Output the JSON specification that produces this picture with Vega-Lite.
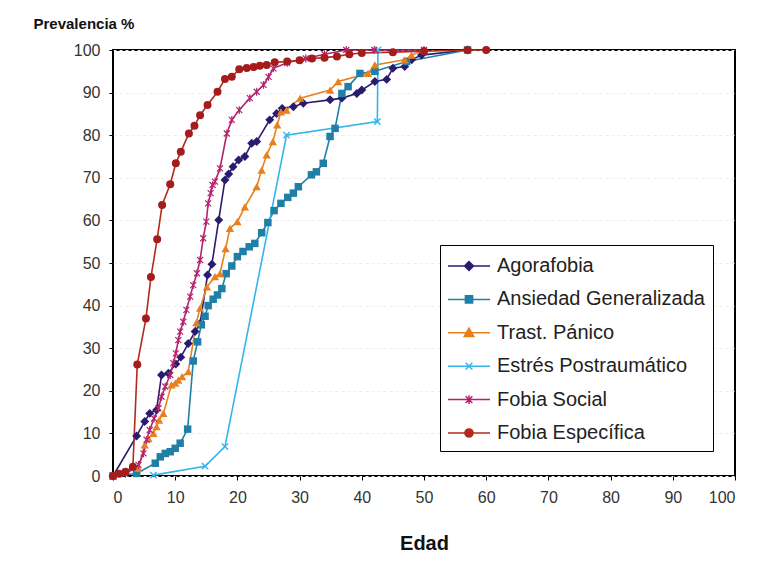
{
  "$schema": "https://vega.github.io/schema/vega-lite/v6.json",
  "width": 622,
  "height": 426,
  "autosize": {"type": "none"},
  "padding": {"left": 113, "top": 50, "right": 37, "bottom": 95},
  "background": "white",
  "config": {
    "font": "Liberation Sans",
    "view": {"stroke": "#000000", "strokeWidth": 2},
    "axis": {"labelFont": "Liberation Sans", "titleFont": "Liberation Sans"},
    "legend": {"labelFont": "Liberation Sans"}
  },
  "data": {"values": [
    {"series": "Agorafobia", "x": 0, "y": 0},
    {"series": "Agorafobia", "x": 3.8, "y": 9.4},
    {"series": "Agorafobia", "x": 5.1, "y": 12.8},
    {"series": "Agorafobia", "x": 5.9, "y": 14.7},
    {"series": "Agorafobia", "x": 7, "y": 15.5},
    {"series": "Agorafobia", "x": 7.8, "y": 23.7},
    {"series": "Agorafobia", "x": 8.9, "y": 24.1},
    {"series": "Agorafobia", "x": 10.1, "y": 26.3},
    {"series": "Agorafobia", "x": 10.9, "y": 27.9},
    {"series": "Agorafobia", "x": 12.1, "y": 31.1},
    {"series": "Agorafobia", "x": 13.2, "y": 33.9},
    {"series": "Agorafobia", "x": 14, "y": 35.8},
    {"series": "Agorafobia", "x": 15.2, "y": 47.2},
    {"series": "Agorafobia", "x": 15.9, "y": 49.7},
    {"series": "Agorafobia", "x": 17, "y": 60.1},
    {"series": "Agorafobia", "x": 18, "y": 69.5},
    {"series": "Agorafobia", "x": 18.6, "y": 70.9},
    {"series": "Agorafobia", "x": 19.3, "y": 72.6},
    {"series": "Agorafobia", "x": 20.2, "y": 74.2},
    {"series": "Agorafobia", "x": 21.2, "y": 75},
    {"series": "Agorafobia", "x": 22.3, "y": 78.1},
    {"series": "Agorafobia", "x": 23.1, "y": 78.5},
    {"series": "Agorafobia", "x": 25.2, "y": 83.6},
    {"series": "Agorafobia", "x": 26.3, "y": 85.1},
    {"series": "Agorafobia", "x": 27.2, "y": 86.3},
    {"series": "Agorafobia", "x": 29, "y": 86.7},
    {"series": "Agorafobia", "x": 30.6, "y": 87.5},
    {"series": "Agorafobia", "x": 34.9, "y": 88.3},
    {"series": "Agorafobia", "x": 36.8, "y": 88.7},
    {"series": "Agorafobia", "x": 39.2, "y": 89.8},
    {"series": "Agorafobia", "x": 40, "y": 90.6},
    {"series": "Agorafobia", "x": 42.1, "y": 92.6},
    {"series": "Agorafobia", "x": 44, "y": 93.1},
    {"series": "Agorafobia", "x": 45, "y": 95.7},
    {"series": "Agorafobia", "x": 46.9, "y": 96.1},
    {"series": "Agorafobia", "x": 48, "y": 97.7},
    {"series": "Agorafobia", "x": 49.6, "y": 98.8},
    {"series": "Agorafobia", "x": 57, "y": 100},
    {"series": "Ansiedad Generalizada", "x": 0, "y": 0},
    {"series": "Ansiedad Generalizada", "x": 3.8, "y": 0.6},
    {"series": "Ansiedad Generalizada", "x": 6.8, "y": 3},
    {"series": "Ansiedad Generalizada", "x": 7.6, "y": 4.5},
    {"series": "Ansiedad Generalizada", "x": 8.4, "y": 5.3},
    {"series": "Ansiedad Generalizada", "x": 9.2, "y": 5.7},
    {"series": "Ansiedad Generalizada", "x": 10, "y": 6.5},
    {"series": "Ansiedad Generalizada", "x": 10.8, "y": 7.7},
    {"series": "Ansiedad Generalizada", "x": 12, "y": 11},
    {"series": "Ansiedad Generalizada", "x": 12.9, "y": 27},
    {"series": "Ansiedad Generalizada", "x": 13.6, "y": 31.5},
    {"series": "Ansiedad Generalizada", "x": 14.2, "y": 35.5},
    {"series": "Ansiedad Generalizada", "x": 14.8, "y": 37.5},
    {"series": "Ansiedad Generalizada", "x": 15.3, "y": 40},
    {"series": "Ansiedad Generalizada", "x": 16.1, "y": 41.5},
    {"series": "Ansiedad Generalizada", "x": 16.8, "y": 42.5},
    {"series": "Ansiedad Generalizada", "x": 17.5, "y": 44},
    {"series": "Ansiedad Generalizada", "x": 18.2, "y": 47.5},
    {"series": "Ansiedad Generalizada", "x": 19.1, "y": 49.3},
    {"series": "Ansiedad Generalizada", "x": 20, "y": 51.5},
    {"series": "Ansiedad Generalizada", "x": 20.9, "y": 52.7},
    {"series": "Ansiedad Generalizada", "x": 21.9, "y": 53.8},
    {"series": "Ansiedad Generalizada", "x": 22.8, "y": 54.6},
    {"series": "Ansiedad Generalizada", "x": 23.9, "y": 57.1},
    {"series": "Ansiedad Generalizada", "x": 24.9, "y": 59.5},
    {"series": "Ansiedad Generalizada", "x": 25.9, "y": 62.3},
    {"series": "Ansiedad Generalizada", "x": 27, "y": 64},
    {"series": "Ansiedad Generalizada", "x": 28.1, "y": 65.4},
    {"series": "Ansiedad Generalizada", "x": 29, "y": 66.4},
    {"series": "Ansiedad Generalizada", "x": 29.8, "y": 67.9},
    {"series": "Ansiedad Generalizada", "x": 31.9, "y": 70.7},
    {"series": "Ansiedad Generalizada", "x": 32.7, "y": 71.4},
    {"series": "Ansiedad Generalizada", "x": 33.8, "y": 73.4},
    {"series": "Ansiedad Generalizada", "x": 34.9, "y": 79.7},
    {"series": "Ansiedad Generalizada", "x": 35.7, "y": 81.6},
    {"series": "Ansiedad Generalizada", "x": 36.8, "y": 89.8},
    {"series": "Ansiedad Generalizada", "x": 37.8, "y": 91.4},
    {"series": "Ansiedad Generalizada", "x": 39.7, "y": 94.5},
    {"series": "Ansiedad Generalizada", "x": 42.1, "y": 95},
    {"series": "Ansiedad Generalizada", "x": 47.2, "y": 97.3},
    {"series": "Ansiedad Generalizada", "x": 57, "y": 100},
    {"series": "Trast. Pánico", "x": 0, "y": 0},
    {"series": "Trast. Pánico", "x": 4.1, "y": 1.8},
    {"series": "Trast. Pánico", "x": 5.1, "y": 7.3},
    {"series": "Trast. Pánico", "x": 5.7, "y": 8.8},
    {"series": "Trast. Pánico", "x": 6.5, "y": 10},
    {"series": "Trast. Pánico", "x": 7, "y": 11.6},
    {"series": "Trast. Pánico", "x": 7.4, "y": 13.1},
    {"series": "Trast. Pánico", "x": 8.1, "y": 14.7},
    {"series": "Trast. Pánico", "x": 9.4, "y": 21.4},
    {"series": "Trast. Pánico", "x": 10, "y": 21.8},
    {"series": "Trast. Pánico", "x": 10.5, "y": 22.5},
    {"series": "Trast. Pánico", "x": 11.1, "y": 23.3},
    {"series": "Trast. Pánico", "x": 12.1, "y": 24.5},
    {"series": "Trast. Pánico", "x": 13.4, "y": 36},
    {"series": "Trast. Pánico", "x": 14, "y": 39.4},
    {"series": "Trast. Pánico", "x": 15.1, "y": 44.4},
    {"series": "Trast. Pánico", "x": 16.4, "y": 46.8},
    {"series": "Trast. Pánico", "x": 17.2, "y": 47.5},
    {"series": "Trast. Pánico", "x": 18.1, "y": 53.4},
    {"series": "Trast. Pánico", "x": 18.8, "y": 58.1},
    {"series": "Trast. Pánico", "x": 20, "y": 59.7},
    {"series": "Trast. Pánico", "x": 21.2, "y": 63.2},
    {"series": "Trast. Pánico", "x": 23.1, "y": 67.9},
    {"series": "Trast. Pánico", "x": 23.9, "y": 71.8},
    {"series": "Trast. Pánico", "x": 24.7, "y": 75.4},
    {"series": "Trast. Pánico", "x": 25.7, "y": 78.5},
    {"series": "Trast. Pánico", "x": 26.4, "y": 82.4},
    {"series": "Trast. Pánico", "x": 27, "y": 85.5},
    {"series": "Trast. Pánico", "x": 27.9, "y": 85.9},
    {"series": "Trast. Pánico", "x": 30.1, "y": 88.7},
    {"series": "Trast. Pánico", "x": 34.9, "y": 90.6},
    {"series": "Trast. Pánico", "x": 36.2, "y": 92.6},
    {"series": "Trast. Pánico", "x": 41, "y": 94.5},
    {"series": "Trast. Pánico", "x": 42.1, "y": 96.5},
    {"series": "Trast. Pánico", "x": 46.9, "y": 97.7},
    {"series": "Trast. Pánico", "x": 48, "y": 98.8},
    {"series": "Trast. Pánico", "x": 50, "y": 100},
    {"series": "Estrés Postraumático", "x": 6.5, "y": 0.2},
    {"series": "Estrés Postraumático", "x": 14.8, "y": 2.3},
    {"series": "Estrés Postraumático", "x": 18, "y": 6.9},
    {"series": "Estrés Postraumático", "x": 27.9, "y": 80},
    {"series": "Estrés Postraumático", "x": 42.5, "y": 83.2},
    {"series": "Estrés Postraumático", "x": 42.6, "y": 100},
    {"series": "Fobia Social", "x": 0, "y": 0},
    {"series": "Fobia Social", "x": 2, "y": 0.5},
    {"series": "Fobia Social", "x": 4.1, "y": 2.6},
    {"series": "Fobia Social", "x": 4.9, "y": 5.3},
    {"series": "Fobia Social", "x": 5.4, "y": 8.5},
    {"series": "Fobia Social", "x": 5.9, "y": 10.8},
    {"series": "Fobia Social", "x": 6.6, "y": 13.5},
    {"series": "Fobia Social", "x": 7.3, "y": 15.9},
    {"series": "Fobia Social", "x": 7.8, "y": 18.6},
    {"series": "Fobia Social", "x": 8.4, "y": 21},
    {"series": "Fobia Social", "x": 9.2, "y": 23.7},
    {"series": "Fobia Social", "x": 9.7, "y": 26.5},
    {"series": "Fobia Social", "x": 10.1, "y": 28.8},
    {"series": "Fobia Social", "x": 10.5, "y": 31.9},
    {"series": "Fobia Social", "x": 10.8, "y": 33.9},
    {"series": "Fobia Social", "x": 11.3, "y": 36.2},
    {"series": "Fobia Social", "x": 11.8, "y": 39},
    {"series": "Fobia Social", "x": 12.4, "y": 42.1},
    {"series": "Fobia Social", "x": 12.9, "y": 44.8},
    {"series": "Fobia Social", "x": 13.5, "y": 47.6},
    {"series": "Fobia Social", "x": 14, "y": 50.7},
    {"series": "Fobia Social", "x": 14.5, "y": 55.8},
    {"series": "Fobia Social", "x": 15, "y": 59.7},
    {"series": "Fobia Social", "x": 15.3, "y": 64},
    {"series": "Fobia Social", "x": 15.7, "y": 66.4},
    {"series": "Fobia Social", "x": 16, "y": 68.3},
    {"series": "Fobia Social", "x": 16.4, "y": 69.1},
    {"series": "Fobia Social", "x": 17.2, "y": 72.2},
    {"series": "Fobia Social", "x": 18.3, "y": 80.4},
    {"series": "Fobia Social", "x": 19.1, "y": 83.6},
    {"series": "Fobia Social", "x": 20.3, "y": 85.9},
    {"series": "Fobia Social", "x": 22, "y": 88.7},
    {"series": "Fobia Social", "x": 23.1, "y": 90.2},
    {"series": "Fobia Social", "x": 24.2, "y": 91.8},
    {"series": "Fobia Social", "x": 25, "y": 93.7},
    {"series": "Fobia Social", "x": 25.8, "y": 95.7},
    {"series": "Fobia Social", "x": 28, "y": 97},
    {"series": "Fobia Social", "x": 31, "y": 98},
    {"series": "Fobia Social", "x": 34, "y": 99},
    {"series": "Fobia Social", "x": 37.5, "y": 100},
    {"series": "Fobia Social", "x": 42, "y": 100},
    {"series": "Fobia Social", "x": 50, "y": 100},
    {"series": "Fobia Específica", "x": 0, "y": 0},
    {"series": "Fobia Específica", "x": 1, "y": 0.5},
    {"series": "Fobia Específica", "x": 2, "y": 1},
    {"series": "Fobia Específica", "x": 3.2, "y": 2.2},
    {"series": "Fobia Específica", "x": 3.9, "y": 26.2},
    {"series": "Fobia Específica", "x": 5.3, "y": 37},
    {"series": "Fobia Específica", "x": 6.1, "y": 46.7},
    {"series": "Fobia Específica", "x": 7.1, "y": 55.6},
    {"series": "Fobia Específica", "x": 7.9, "y": 63.6},
    {"series": "Fobia Específica", "x": 9.2, "y": 68.5},
    {"series": "Fobia Específica", "x": 10.1, "y": 73.4},
    {"series": "Fobia Específica", "x": 10.9, "y": 76.1},
    {"series": "Fobia Específica", "x": 12.2, "y": 80.4},
    {"series": "Fobia Específica", "x": 13.1, "y": 82.2},
    {"series": "Fobia Específica", "x": 14, "y": 84.7},
    {"series": "Fobia Específica", "x": 15.2, "y": 87.1},
    {"series": "Fobia Específica", "x": 16.8, "y": 90.2},
    {"series": "Fobia Específica", "x": 18, "y": 93.2},
    {"series": "Fobia Específica", "x": 19.1, "y": 93.7},
    {"series": "Fobia Específica", "x": 20.3, "y": 95.5},
    {"series": "Fobia Específica", "x": 21.5, "y": 95.8},
    {"series": "Fobia Específica", "x": 22.6, "y": 96},
    {"series": "Fobia Específica", "x": 23.6, "y": 96.3},
    {"series": "Fobia Específica", "x": 24.7, "y": 96.5},
    {"series": "Fobia Específica", "x": 26, "y": 97.1},
    {"series": "Fobia Específica", "x": 28, "y": 97.3},
    {"series": "Fobia Específica", "x": 30, "y": 97.6},
    {"series": "Fobia Específica", "x": 32, "y": 98},
    {"series": "Fobia Específica", "x": 34, "y": 98.2},
    {"series": "Fobia Específica", "x": 36, "y": 98.5},
    {"series": "Fobia Específica", "x": 38, "y": 99},
    {"series": "Fobia Específica", "x": 40, "y": 99.3},
    {"series": "Fobia Específica", "x": 45, "y": 99.5},
    {"series": "Fobia Específica", "x": 50, "y": 99.7},
    {"series": "Fobia Específica", "x": 57, "y": 100},
    {"series": "Fobia Específica", "x": 60, "y": 100}
  ]},
  "encoding": {
    "x": {
      "field": "x", "type": "quantitative",
      "scale": {"domain": [0, 100], "nice": false},
      "axis": {
        "values": [0, 10, 20, 30, 40, 50, 60, 70, 80, 90, 100],
        "title": "Edad", "titleFontSize": 20, "titleFontWeight": "bold", "titleColor": "#111111",
        "titlePadding": 28,
        "labelFontSize": 16, "labelColor": "#333333", "labelPadding": 9,
        "tickSize": 4, "tickColor": "#000000", "domain": false, "grid": false
      }
    },
    "y": {
      "field": "y", "type": "quantitative",
      "scale": {"domain": [0, 100], "nice": false},
      "axis": {
        "values": [0, 10, 20, 30, 40, 50, 60, 70, 80, 90, 100],
        "title": "Prevalencia %", "titleFontSize": 15, "titleFontWeight": "bold", "titleColor": "#111111",
        "titleAngle": 0, "titleAlign": "left", "titleBaseline": "alphabetic",
        "titleX": -80, "titleY": -22,
        "labelFontSize": 16, "labelColor": "#333333", "labelPadding": 9,
        "tickSize": 4, "tickColor": "#000000", "domain": false,
        "grid": true, "gridColor": "#ececec", "gridDash": [3, 3]
      }
    }
  },
  "layer": [
    {
      "mark": {"type": "line", "strokeWidth": 1.6},
      "encoding": {
        "color": {
          "field": "series", "type": "nominal",
          "scale": {
            "domain": ["Agorafobia", "Ansiedad Generalizada", "Trast. Pánico", "Estrés Postraumático", "Fobia Social", "Fobia Específica"],
            "range": ["#2b1b6e", "#1f7fa6", "#e8801e", "#33b5ea", "#b3236f", "#b32a1e"]
          },
          "legend": {
            "title": null, "orient": "none", "legendX": 327, "legendY": 195,
            "direction": "vertical",
            "strokeColor": "#000000", "fillColor": "#ffffff", "padding": 8,
            "labelFontSize": 20, "labelColor": "#222222", "labelOffset": 15, "labelLimit": 400,
            "rowPadding": 10.4, "symbolSize": 576, "symbolOffset": 8, "symbolStrokeWidth": 1.5,
            "encode": {
              "symbols": {
                "update": {
                  "shape": {"signal": "datum.value === 'Agorafobia' ? 'M-1.75,0H1.75M0,-0.37L0.37,0L0,0.37L-0.37,0Z' : datum.value === 'Ansiedad Generalizada' ? 'M-1.75,0H1.75M-0.3,-0.3H0.3V0.3H-0.3Z' : datum.value === 'Trast. Pánico' ? 'M-1.75,0H1.75M0,-0.4L0.4,0.3L-0.4,0.3Z' : datum.value === 'Estrés Postraumático' ? 'M-1.75,0H1.75M-0.28,-0.28L0.28,0.28M-0.28,0.28L0.28,-0.28' : datum.value === 'Fobia Social' ? 'M-1.75,0H1.75M-0.28,-0.28L0.28,0.28M-0.28,0.28L0.28,-0.28M0,-0.36V0.36' : 'M-1.75,0H1.75M0.34,0A0.34,0.34 0 1,1 -0.34,0A0.34,0.34 0 1,1 0.34,0Z'"},
                  "fill": {"scale": "color", "field": "value"},
                  "stroke": {"scale": "color", "field": "value"},
                  "strokeWidth": {"value": 1.5},
                  "opacity": {"value": 1}
                }
              }
            }
          }
        }
      }
    },
    {
      "transform": [{"filter": "datum.series === 'Agorafobia'"}],
      "mark": {"type": "point", "shape": "diamond", "filled": true, "size": 80, "color": "#2b1b6e", "opacity": 1}
    },
    {
      "transform": [{"filter": "datum.series === 'Ansiedad Generalizada'"}],
      "mark": {"type": "point", "shape": "square", "filled": true, "size": 56, "color": "#1f7fa6", "opacity": 1}
    },
    {
      "transform": [{"filter": "datum.series === 'Trast. Pánico'"}],
      "mark": {"type": "point", "shape": "triangle-up", "filled": true, "size": 70, "color": "#e8801e", "opacity": 1}
    },
    {
      "transform": [{"filter": "datum.series === 'Estrés Postraumático'"}],
      "mark": {"type": "point", "shape": "M-1,-1L1,1M-1,1L1,-1", "filled": false, "size": 40, "strokeWidth": 1.4, "color": "#33b5ea", "opacity": 1}
    },
    {
      "transform": [{"filter": "datum.series === 'Fobia Social'"}],
      "mark": {"type": "point", "shape": "M-1,-1L1,1M-1,1L1,-1M0,-1.3V1.3", "filled": false, "size": 36, "strokeWidth": 1.2, "color": "#b3236f", "opacity": 1}
    },
    {
      "transform": [{"filter": "datum.series === 'Fobia Específica'"}],
      "mark": {"type": "point", "shape": "circle", "filled": true, "size": 64, "color": "#a51c1c", "opacity": 1}
    }
  ]
}
